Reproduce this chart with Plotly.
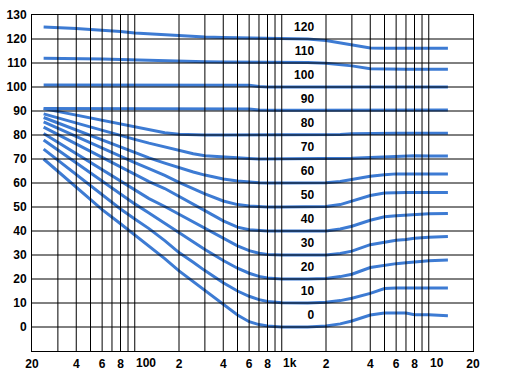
import numpy as np
import plotly.graph_objects as go

# Frequencies (Hz) at which each contour is sampled
freqs = [24, 30, 40, 50, 60, 80, 100, 125, 160, 200, 250, 300, 400, 500, 600, 700, 800,
         1000, 1500, 2000, 2500, 3000, 4000, 5000, 6000, 7000, 8000, 10000, 13500]

# Sound pressure level (dB) for each loudness contour (phon)
phon_0   = [70, 64.9, 58.2, 53.3, 48.9, 43, 38.4, 33.8, 28.5, 23.4, 18.9, 15.3, 9.5, 5, 2.2, 1.0, 0.4,
            0, 0, 0.4, 1.3, 2.5, 5, 5.8, 5.8, 5.8, 5.1, 5.1, 4.7]
phon_10  = [74.1, 69.5, 63.5, 58.9, 55.1, 49.2, 45, 41, 36, 31, 27, 23.5, 18.4, 15, 12.8, 11.4, 10.6,
            10.1, 10, 10.3, 11, 12, 14, 16, 16.3, 16.3, 16.3, 16.3, 16.3]
phon_20  = [77.9, 73.7, 68.4, 64.2, 60.8, 55.4, 51.3, 47.5, 43.2, 39, 35.3, 32.3, 27.7, 24.5, 22.4, 21.1, 20.4,
            20, 20, 20.2, 21, 22, 24.8, 25.8, 26.4, 26.8, 27.2, 27.6, 27.9]
phon_30  = [80.6, 76.9, 72.2, 68.5, 65.5, 60.7, 57, 53.5, 50.2, 47, 43.8, 41, 36.8, 33.8, 31.8, 30.7, 30.2,
            30, 30, 30, 30.6, 31.6, 34.3, 35.4, 36.1, 36.5, 37, 37.4, 37.7]
phon_40  = [83.3, 80.2, 76.2, 73.1, 70.5, 66.6, 63.5, 60.6, 57.7, 54.5, 51.3, 48.5, 44.2, 41.6, 40.5, 40.1, 40,
            40, 40, 40, 40.8, 42, 44.5, 45.9, 46.4, 46.7, 46.9, 47.2, 47.3]
phon_50  = [85.5, 82.8, 79.4, 76.7, 74.5, 71, 68.5, 66, 63.2, 60.3, 57.6, 55.5, 52.5, 51, 50.4, 50.1, 50,
            50, 50, 50.2, 51, 52.5, 54.8, 55.8, 56, 56, 56, 56, 56]
phon_60  = [87.3, 85.0, 82.1, 79.8, 78, 75, 72.6, 70.5, 68.3, 66.3, 64.6, 63.3, 61.7, 60.8, 60.3, 60.1, 60,
            60, 60, 60.1, 60.6, 61.5, 62.8, 63.4, 63.8, 63.8, 63.8, 63.8, 63.8]
phon_70  = [88.8, 87.1, 85, 83.3, 82, 79.8, 78.2, 76.6, 75, 73.4, 72.2, 71.4, 70.8, 70.4, 70.2, 70, 70,
            70, 70, 70, 70.1, 70.3, 70.6, 70.9, 71.2, 71.4, 71.4, 71.3, 71.2]
phon_80  = [91, 89.8, 88.3, 87.1, 86.1, 84.6, 83.4, 82.2, 80.9, 80.3, 80.1, 80, 80, 80, 80, 80, 80,
            80, 80, 80, 80.2, 80.5, 80.7, 80.7, 80.7, 80.7, 80.7, 80.7, 80.7]
phon_90  = [91, 91, 90.9, 90.9, 90.9, 90.9, 90.9, 90.9, 90.9, 90.8, 90.8, 90.8, 90.8, 90.8, 90.8, 90.4, 90.3,
            90.3, 90.3, 90.3, 90.3, 90.4, 90.4, 90.4, 90.4, 90.4, 90.4, 90.4, 90.4]
phon_100 = [100.8, 100.8, 100.8, 100.8, 100.8, 100.8, 100.8, 100.8, 100.8, 100.8, 100.7, 100.7, 100.7, 100.7, 100.7, 100.2, 100,
            100, 100, 100, 100, 100, 100, 100, 100, 100, 100, 100, 100]
phon_110 = [112, 112, 111.9, 111.8, 111.7, 111.5, 111.3, 111.1, 110.8, 110.6, 110.5, 110.5, 110.4, 110.4, 110.4, 110.3, 110.3,
            110.3, 110.2, 109.9, 109.4, 108.8, 107.6, 107.4, 107.4, 107.4, 107.4, 107.4, 107.4]
phon_120 = [125, 124.8, 124.4, 124, 123.7, 123.1, 122.5, 122.1, 121.7, 121.4, 121.1, 120.8, 120.6, 120.5, 120.4, 120.3, 120.3,
            120.3, 120, 119.4, 118.5, 117.5, 116.3, 116.1, 116.1, 116.1, 116.1, 116.1, 116.1]

levels = [0, 10, 20, 30, 40, 50, 60, 70, 80, 90, 100, 110, 120]
curves = [phon_0, phon_10, phon_20, phon_30, phon_40, phon_50, phon_60,
          phon_70, phon_80, phon_90, phon_100, phon_110, phon_120]

# Axis tick labels (centred on their grid line)
x_tickvals = [20, 40, 60, 80, 200, 400, 600, 800, 2000, 4000, 6000, 8000, 20000]
x_ticktext = ["20", "4", "6", "8", "2", "4", "6", "8", "2", "4", "6", "8", "20"]
# Decade labels that start at their grid line
decade_vals = [100, 1000, 10000]
decade_text = ["100", "1k", "10"]
y_tickvals = [0, 10, 20, 30, 40, 50, 60, 70, 80, 90, 100, 110, 120, 130]

# Grid positions
x_grid = [30, 40, 50, 60, 70, 80, 90, 100, 200, 300, 400, 500, 600, 700, 800, 900,
          1000, 2000, 3000, 4000, 5000, 6000, 7000, 8000, 9000, 10000]
y_grid = [0, 10, 20, 30, 40, 50, 60, 70, 80, 90, 100, 110, 120]

label_freq = 1660
label_offset = 4.4

BLUE = "#3d7bd3"
FONT = dict(family="Liberation Sans, Arial, sans-serif", size=12, color="black", weight="bold")

fig = go.Figure()
for lev, vals in zip(levels, curves):
    fig.add_trace(go.Scatter(x=freqs, y=vals, mode="lines",
                             line=dict(color=BLUE, width=3),
                             showlegend=False, hoverinfo="skip"))

fig.add_trace(go.Scatter(x=[label_freq] * len(levels),
                         y=[l + label_offset for l in levels],
                         text=[str(l) for l in levels],
                         mode="text", textposition="middle left",
                         textfont=FONT, showlegend=False, hoverinfo="skip"))

shapes = []
for f in x_grid:
    shapes.append(dict(type="line", xref="x", yref="y", x0=f, x1=f, y0=-10, y1=130,
                       line=dict(color="black", width=1), layer="above"))
for v in y_grid:
    shapes.append(dict(type="line", xref="x", yref="y", x0=20, x1=20000, y0=v, y1=v,
                       line=dict(color="black", width=1), layer="above"))

annotations = [dict(x=np.log10(v), y=0, xref="x", yref="paper", text=t,
                    showarrow=False, xanchor="left", yanchor="middle",
                    yshift=-12, xshift=-1, font=FONT)
               for v, t in zip(decade_vals, decade_text)]

fig.update_layout(
    width=510, height=380,
    margin=dict(l=32, r=37, t=15, b=29, autoexpand=False),
    paper_bgcolor="white", plot_bgcolor="white",
    shapes=shapes,
    annotations=annotations,
    hovermode=False,
    xaxis=dict(type="log", range=[np.log10(20), np.log10(20000)],
               tickvals=x_tickvals, ticktext=x_ticktext, tickfont=FONT,
               tickangle=0, automargin=False,
               showgrid=False, zeroline=False, showline=True, mirror=True,
               linecolor="black", linewidth=1, ticks="", ticklabelstandoff=2,
               layer="above traces"),
    yaxis=dict(range=[-10, 130], tickvals=y_tickvals, tickfont=FONT,
               automargin=False,
               showgrid=False, zeroline=False, showline=True, mirror=True,
               linecolor="black", linewidth=1, ticks="", ticklabelstandoff=2,
               layer="above traces"),
)

fig.write_html("out.html",
               config={"displayModeBar": False, "staticPlot": True},
               post_script="document.body.style.margin='0';document.body.style.overflow='hidden';")
